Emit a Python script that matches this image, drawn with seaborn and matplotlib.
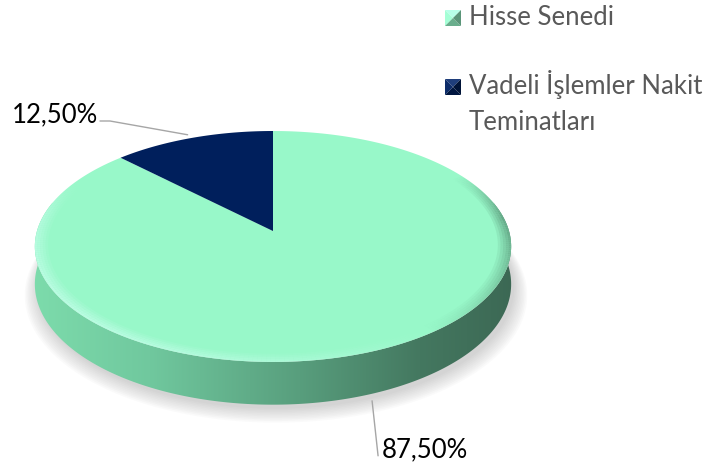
import numpy as np
import matplotlib
matplotlib.use("Agg")
from matplotlib import pyplot as plt
from matplotlib.patches import Polygon
from matplotlib.collections import PolyCollection
import seaborn as sns

# ################################################
# Data
categories = ["Hisse Senedi", "Vadeli İşlemler Nakit\nTeminatları"]
values = [87.5, 12.5]
slice_colors = ["#98F8C9", "#001F5C"]
label_texts = [f"{v:.2f}%".replace(".", ",") for v in values]

sns.set_theme(style="white")
plt.rcParams["font.family"] = ["Lato", "DejaVu Sans"]

# ################################################
# Pie geometry (pixel layout, perspective tilted disk)
CX, CY = 273, 231
A, B, D, T = 236, 113.4, 0.134, 37


def proj(u, v, z=0.0):
    den = 1 + D * v
    return CX + A * u / den, CY - (B * v - T * z) / den


def edge(theta_deg, r=1.0, z=0.0):
    t = np.radians(theta_deg)
    return proj(r * np.cos(t), r * np.sin(t), z)


fig = plt.figure(figsize=(7.19, 4.65), dpi=100)
ax = fig.add_axes([0, 0, 1, 1])

# soft shadow under the pie
th_all = np.linspace(0, 360, 361)
for k in range(10):
    sx, sy = edge(th_all, r=1.0 + 0.006 * k, z=1.0)
    ax.add_patch(Polygon(np.column_stack([sx + 3, sy + 4 + 0.6 * k]), closed=True,
                         facecolor="#808080", edgecolor="none", alpha=0.035, zorder=1))

# side wall with a left-to-right gradient
th_side = np.linspace(165, 375, 300)
tx, ty = edge(th_side)
bx, by = edge(th_side[::-1], z=1.0)
side = Polygon(np.column_stack([np.r_[tx, bx], np.r_[ty, by]]), closed=True,
               facecolor="none", edgecolor="none", zorder=2)
ax.add_patch(side)
stops_x = [30, 150, 300, 420, 515]
stops_c = np.array([[125, 220, 172], [112, 200, 158], [88, 158, 125],
                    [68, 120, 96], [60, 104, 84]]) / 255
xs = np.linspace(30, 515, 400)
grad = np.stack([np.interp(xs, stops_x, stops_c[:, i]) for i in range(3)], axis=-1)[None, :, :]
im = ax.imshow(grad, extent=[30, 515, 420, 200], aspect="auto", zorder=2, interpolation="bilinear")
im.set_clip_path(side)

# top face slices, clockwise from 12 o'clock
start = 90.0
mids = []
total = sum(values)
for val, col in zip(values, slice_colors):
    end = start - 360 * val / total
    th = np.linspace(end, start, 400)
    px, py = edge(th)
    ax.add_patch(Polygon(np.column_stack([np.r_[CX, px], np.r_[CY, py]]), closed=True,
                         facecolor=col, edgecolor="none", zorder=3))
    mids.append((start + end) / 2)
    start = end

# bevel rim on the top face
th_rim = np.linspace(150, 392, 250)
for j in range(5):
    r_out = 1 - 0.011 * j
    r_in = r_out - 0.011
    quads, cols = [], []
    for a0, a1 in zip(th_rim[:-1], th_rim[1:]):
        am = np.radians((a0 + a1) / 2)
        s = -0.8 * np.cos(am) - 0.6 * np.sin(am)
        fade = min(1.0, (a0 - 150) / 20, (392 - a1) / 25)
        o0, o1 = edge(np.array([a0, a1]), r=r_out)
        i0, i1 = edge(np.array([a1, a0]), r=r_in)
        quads.append(np.column_stack([np.r_[o0, i0], np.r_[o1, i1]]))
        base = np.array([0.80, 1.0, 0.94]) if s > 0 else np.array([0.24, 0.42, 0.33])
        cols.append((*base, abs(s) * 0.65 * (1 - j / 5) * fade))
    ax.add_collection(PolyCollection(quads, facecolors=cols, edgecolors="none", zorder=4))

# ################################################
# Data labels with leader lines
lead = "#A6A6A6"
# 87,50% (green slice, bottom right)
ex, ey = edge(mids[0], z=1.0)
ax.plot([ex - 4, ex + 2], [ey + 8, ey + 63], color=lead, lw=1, zorder=5)
ax.text(382, 457, label_texts[0], fontsize=18.5, color="#000000", ha="left", va="baseline")
# 12,50% (dark slice, top left)
ex, ey = edge(mids[1])
ax.plot([ex - 5, 110, 100], [ey - 3, 121, 121], color=lead, lw=1, zorder=5)
ax.text(12, 122, label_texts[1], fontsize=18.5, color="#000000", ha="left", va="baseline")

# ################################################
# Legend (swatch + grey label, label lines 36 px apart)
legend_y = [25, 94]
for name, col, yb in zip(categories, slice_colors, legend_y):
    x0, y0, w = 445, yb - 15, 16
    base = np.array(matplotlib.colors.to_rgb(col))
    c = (x0 + w / 2, y0 + w / 2)
    tris = [([(x0, y0), (x0 + w, y0), c], np.clip(base + 0.12, 0, 1)),
            ([(x0, y0), (x0, y0 + w), c], np.clip(base + 0.05, 0, 1)),
            ([(x0, y0 + w), (x0 + w, y0 + w), c], base * 0.7),
            ([(x0 + w, y0), (x0 + w, y0 + w), c], base * 0.6)]
    for pts, tc in tris:
        ax.add_patch(Polygon(pts, closed=True, facecolor=tc, edgecolor="none", zorder=5))
    for i, line in enumerate(name.split("\n")):
        ax.text(469, yb + 36 * i, line, fontsize=18.5, color="#595959",
                ha="left", va="baseline")

ax.set_xlim(0, 719)
ax.set_ylim(465, 0)
ax.axis("off")
fig.savefig("out.png", dpi=100)
